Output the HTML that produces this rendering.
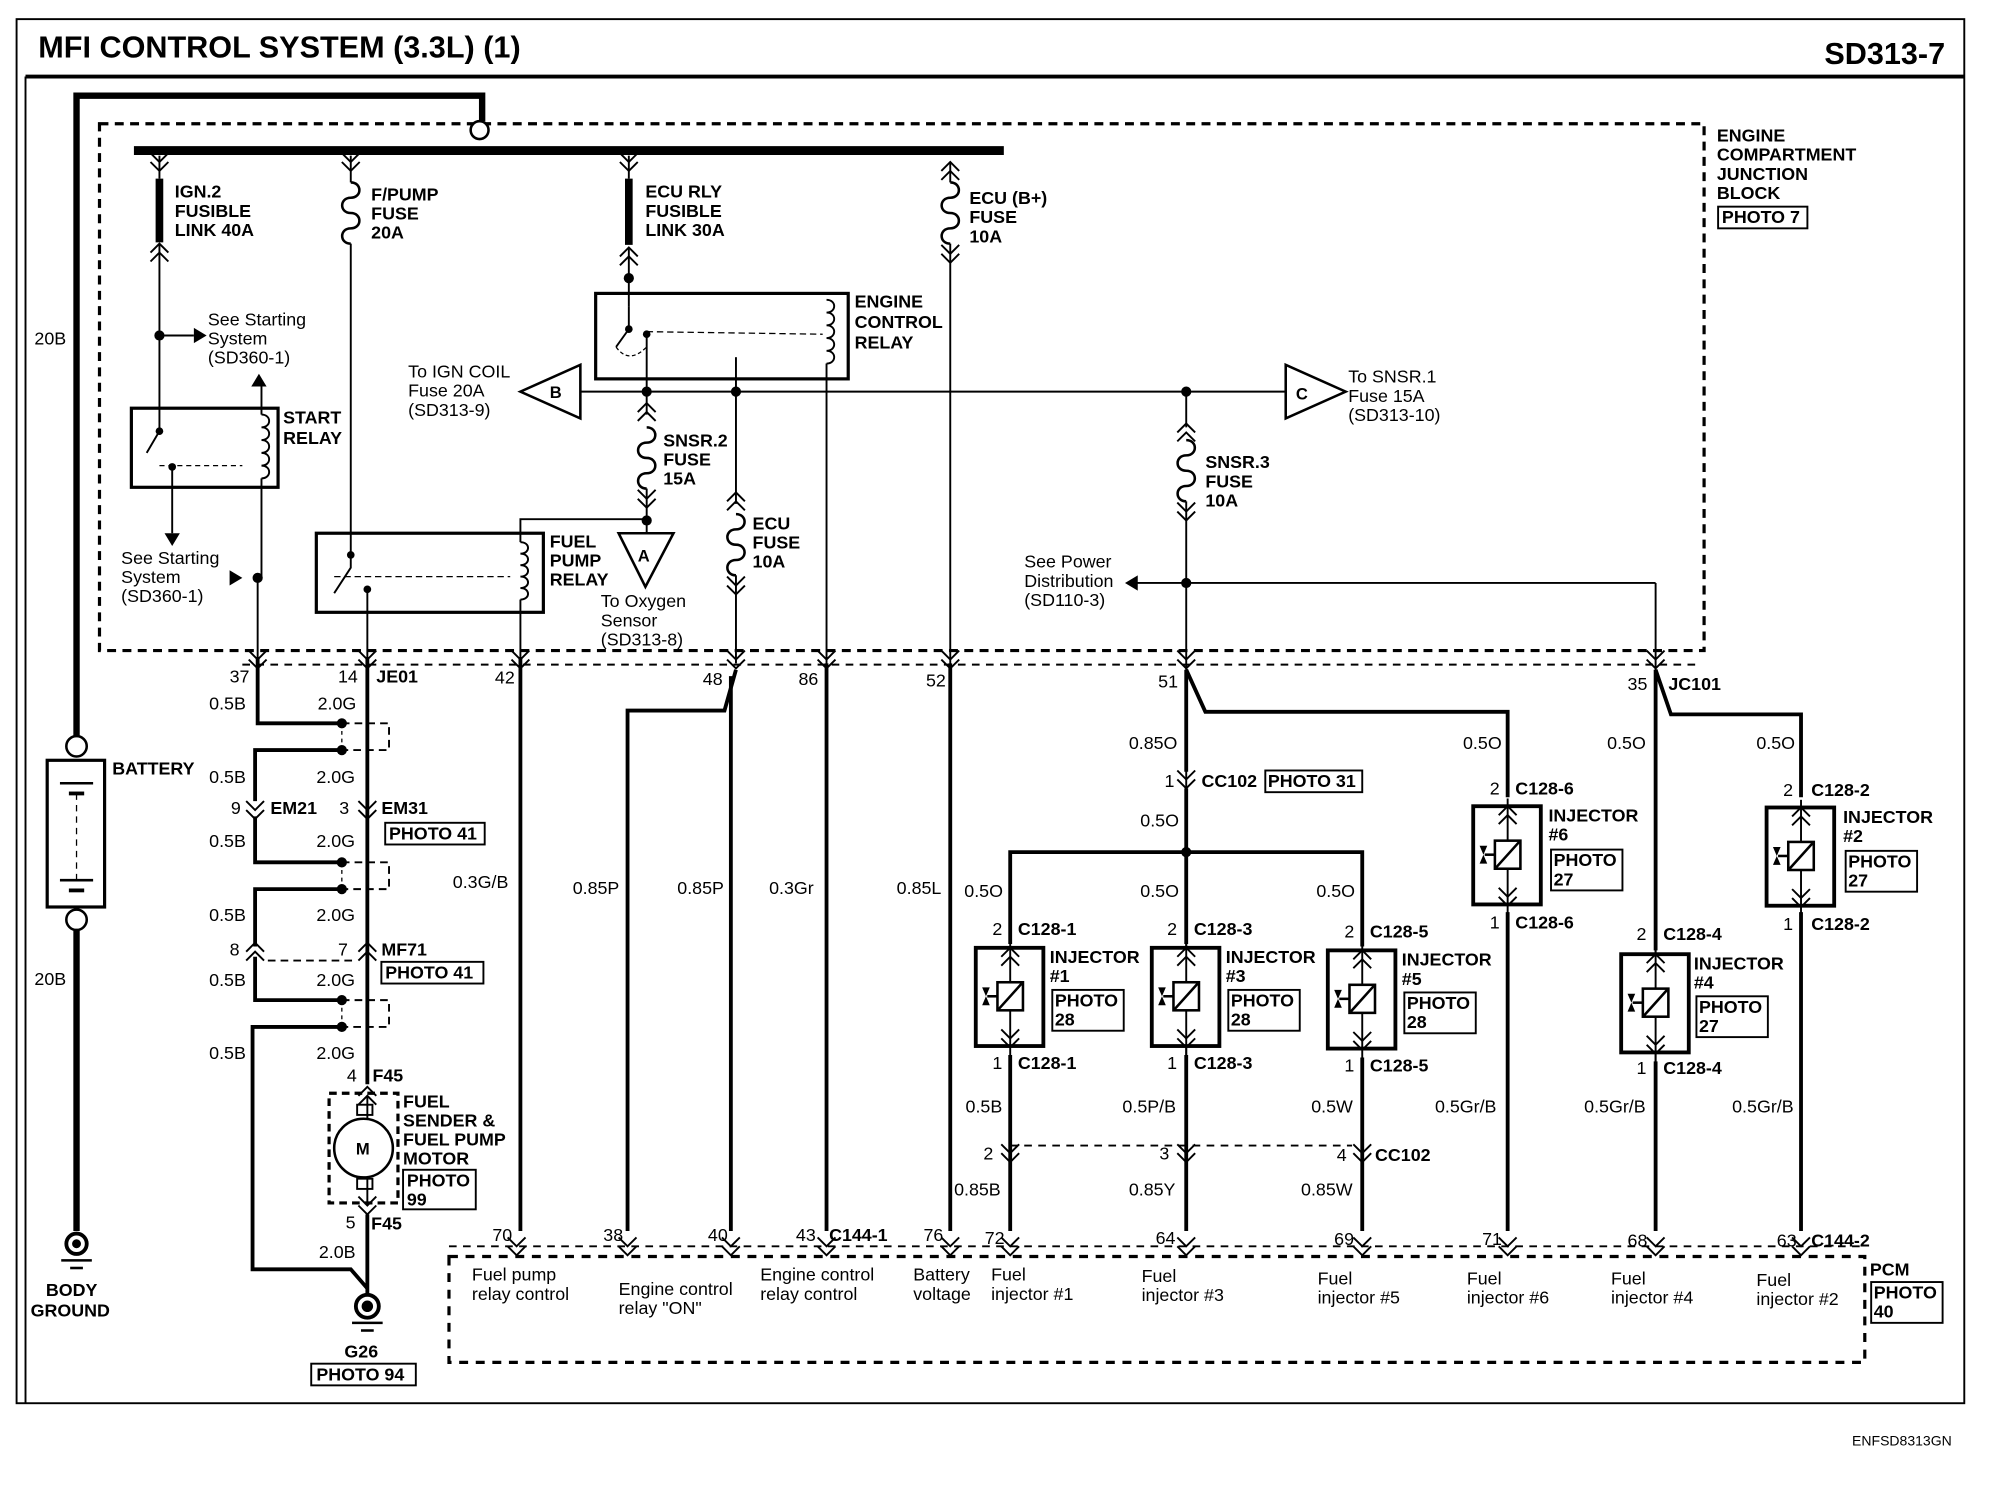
<!DOCTYPE html>
<html><head><meta charset="utf-8"><style>
html,body{margin:0;padding:0;background:#fff}
svg{display:block}
text{font-family:"Liberation Sans",Arial,sans-serif;fill:#000}
.b{font-weight:bold;font-size:14px}
.r{font-size:14px}
.t{font-weight:bold;font-size:24px}
</style></head><body>
<svg width="2000" height="1504" viewBox="0 0 1568 1179" preserveAspectRatio="none" xmlns="http://www.w3.org/2000/svg">
<defs>
<path id="cd" d="M-7,-8 L0,-1 L7,-8 M-7,-1 L0,6 L7,-1" fill="none" stroke="#000" stroke-width="1.5"/>
<path id="cu" d="M-7,8 L0,1 L7,8 M-7,1 L0,-6 L7,1" fill="none" stroke="#000" stroke-width="1.5"/>
<path id="fz" d="M0,0 c9,0 9,12 0,12 c-9,0 -9,12 0,12 c9,0 9,12 0,12 c-9,0 -9,12 0,12" fill="none" stroke="#000" stroke-width="2"/>
<g id="inj">
<rect x="-27" y="0" width="53" height="77" fill="#fff" stroke="#000" stroke-width="3"/>
<line x1="0" y1="-6" x2="0" y2="84" stroke="#000" stroke-width="1.5"/>
<rect x="-10" y="27" width="20" height="22" fill="#fff" stroke="#000" stroke-width="2"/>
<line x1="-9" y1="48" x2="9" y2="28" stroke="#000" stroke-width="2"/>
<line x1="-18" y1="38" x2="-10" y2="38" stroke="#000" stroke-width="2"/>
<path d="M-22,31 L-16,31 L-19,38 L-16,45 L-22,45 L-19,38Z" fill="#000"/>
<use href="#cu" x="0" y="6"/><use href="#cd" x="0" y="72"/>
</g>
</defs>
<g fill="none" stroke="#000">
<rect x="13" y="15" width="1527" height="1085" stroke-width="1.5"/>
<line x1="20" y1="60" x2="1540" y2="60" stroke-width="3"/>
<line x1="20" y1="60" x2="20" y2="1100" stroke-width="1.5"/>
<rect x="78" y="97" width="1258" height="413" stroke-width="2.5" stroke-dasharray="7,5"/>
<polyline points="60,577 60,75 378,75 378,95" stroke-width="5"/>
<circle cx="376" cy="102" r="7" stroke-width="2" fill="#fff"/>
<line x1="105" y1="118" x2="787" y2="118" stroke-width="7"/>
<circle cx="60" cy="585" r="8" stroke-width="2"/>
<rect x="37" y="596" width="45" height="115" stroke-width="2.5"/>
<circle cx="60" cy="721" r="8" stroke-width="2"/>
<line x1="47" y1="614" x2="73" y2="614" stroke-width="2"/><line x1="54" y1="622" x2="66" y2="622" stroke-width="3"/>
<line x1="60" y1="622" x2="60" y2="690" stroke-width="1" stroke-dasharray="5,4"/>
<line x1="47" y1="690" x2="73" y2="690" stroke-width="2"/><line x1="54" y1="698" x2="66" y2="698" stroke-width="3"/>
<line x1="60" y1="729" x2="60" y2="965" stroke-width="5"/>
<use href="#cd" x="125" y="128"/><line x1="125" y1="122" x2="125" y2="140" stroke-width="1.5"/>
<line x1="125" y1="140" x2="125" y2="190" stroke-width="6"/>
<use href="#cu" x="125" y="197"/>
<polyline points="125,192 125,263 125,320" stroke-width="1.5"/>
<line x1="125" y1="263" x2="152" y2="263" stroke-width="1.5"/>
<rect x="103" y="320" width="115" height="62" stroke-width="2.5"/>
<polyline points="125,320 125,338 115,355" stroke-width="1.5"/>
<line x1="125" y1="365" x2="190" y2="365" stroke-width="1" stroke-dasharray="4,3"/>
<line x1="135" y1="365" x2="135" y2="418" stroke-width="1.5"/>
<path d="M205,325 c8,0 8,10 0,10 c8,0 8,10 0,10 c8,0 8,10 0,10 c8,0 8,10 0,10 c8,0 8,10 0,10" stroke-width="1.5"/>
<line x1="205" y1="298" x2="205" y2="325" stroke-width="1.5"/>
<line x1="205" y1="375" x2="205" y2="453" stroke-width="1.5"/>
<line x1="202" y1="453" x2="202" y2="520" stroke-width="1.5"/>
<use href="#cd" x="275" y="128"/><line x1="275" y1="122" x2="275" y2="143" stroke-width="1.5"/>
<use href="#fz" x="275" y="143"/>
<line x1="275" y1="191" x2="275" y2="430" stroke-width="1.5"/>
<rect x="248" y="418" width="178" height="62" stroke-width="2.5"/>
<polyline points="275,430 275,445 262,465" stroke-width="1.5"/>
<line x1="262" y1="452" x2="400" y2="452" stroke-width="1" stroke-dasharray="5,3"/>
<line x1="288" y1="460" x2="288" y2="520" stroke-width="1.5"/>
<path d="M408,425 c8,0 8,9 0,9 c8,0 8,9 0,9 c8,0 8,9 0,9 c8,0 8,9 0,9 c8,0 8,9 0,9" stroke-width="1.5"/>
<polyline points="408,425 408,407 507,407" stroke-width="1.5"/>
<line x1="408" y1="470" x2="408" y2="515" stroke-width="1.5"/>
<use href="#cd" x="493" y="128"/><line x1="493" y1="122" x2="493" y2="140" stroke-width="1.5"/>
<line x1="493" y1="140" x2="493" y2="192" stroke-width="6"/>
<use href="#cu" x="493" y="200"/>
<line x1="493" y1="195" x2="493" y2="240" stroke-width="1.5"/>
<rect x="467" y="230" width="198" height="67" stroke-width="2.5"/>
<polyline points="493,240 493,258 483,272" stroke-width="1.5"/>
<path d="M483,272 q10,14 24,0" stroke-width="1" stroke-dasharray="3,2"/>
<line x1="507" y1="260" x2="645" y2="262" stroke-width="1" stroke-dasharray="5,3"/>
<line x1="507" y1="262" x2="507" y2="307" stroke-width="1.5"/>
<line x1="577" y1="280" x2="577" y2="307" stroke-width="1.5"/>
<path d="M648,235 c8,0 8,10 0,10 c8,0 8,10 0,10 c8,0 8,10 0,10 c8,0 8,10 0,10 c8,0 8,10 0,10" stroke-width="1.5"/>
<line x1="648" y1="285" x2="648" y2="965" stroke-width="1.5"/>
<line x1="455" y1="307" x2="1008" y2="307" stroke-width="1.5"/>
<polygon points="408,307 455,286 455,328" stroke-width="2" fill="#fff"/>
<polygon points="1055,307 1008,286 1008,328" stroke-width="2" fill="#fff"/>
<line x1="507" y1="307" x2="507" y2="325" stroke-width="1.5"/>
<use href="#cu" x="507" y="322"/>
<use href="#fz" x="507" y="335"/>
<use href="#cd" x="507" y="392"/>
<line x1="507" y1="383" x2="507" y2="418" stroke-width="1.5"/>
<polygon points="485,418 528,418 506,460" stroke-width="2" fill="#fff"/>
<line x1="577" y1="307" x2="577" y2="395" stroke-width="1.5"/>
<use href="#cu" x="577" y="392"/>
<use href="#fz" x="577" y="403"/>
<use href="#cd" x="577" y="460"/>
<line x1="577" y1="451" x2="577" y2="520" stroke-width="1.5"/>
<use href="#cu" x="745" y="133"/>
<line x1="745" y1="128" x2="745" y2="143" stroke-width="1.5"/>
<use href="#fz" x="745" y="143"/>
<use href="#cd" x="745" y="200"/>
<line x1="745" y1="191" x2="745" y2="965" stroke-width="1.5"/>
<line x1="930" y1="307" x2="930" y2="335" stroke-width="1.5"/>
<use href="#cu" x="930" y="338"/>
<use href="#fz" x="930" y="345"/>
<use href="#cd" x="930" y="402"/>
<line x1="930" y1="393" x2="930" y2="965" stroke-width="1.5"/>
<line x1="890" y1="457" x2="1298" y2="457" stroke-width="1.5"/>
<line x1="1298" y1="457" x2="1298" y2="965" stroke-width="1.5"/>
<line x1="190" y1="521" x2="1330" y2="521" stroke-width="1.5" stroke-dasharray="6,5"/>
<polyline points="202,515 202,567 268,567" stroke-width="3"/>
<polyline points="268,588 200,588 200,628" stroke-width="3"/>
<polyline points="200,640 200,676 268,676" stroke-width="3"/>
<polyline points="268,697 200,697 200,742" stroke-width="3"/>
<polyline points="200,750 200,784 268,784" stroke-width="3"/>
<polyline points="268,805 198,805 198,995 275,995 288,1010" stroke-width="3"/>
<line x1="268" y1="567" x2="268" y2="588" stroke-width="1" stroke-dasharray="3,3"/>
<line x1="268" y1="676" x2="268" y2="697" stroke-width="1" stroke-dasharray="3,3"/>
<line x1="268" y1="784" x2="268" y2="805" stroke-width="1" stroke-dasharray="3,3"/>
<path d="M268,567 H305 V588 H268 M268,676 H305 V697 H268 M268,784 H305 V805 H268" stroke-width="1.5" stroke-dasharray="6,4"/>
<line x1="210" y1="753" x2="280" y2="753" stroke-width="1.5" stroke-dasharray="6,4"/>
<line x1="288" y1="515" x2="288" y2="850" stroke-width="3"/>
<use href="#cd" x="200" y="636"/><use href="#cd" x="288" y="636"/>
<use href="#cu" x="200" y="745"/><use href="#cu" x="288" y="745"/>
<use href="#cu" x="288" y="858"/>
<rect x="258" y="857" width="54" height="86" stroke-width="2.5" stroke-dasharray="6,4"/>
<rect x="280" y="866" width="12" height="8" stroke-width="1.5"/>
<circle cx="285" cy="900" r="23" stroke-width="2" fill="#fff"/>
<rect x="280" y="924" width="12" height="8" stroke-width="1.5"/>
<line x1="288" y1="860" x2="288" y2="877" stroke-width="1.5"/>
<line x1="288" y1="923" x2="288" y2="945" stroke-width="1.5"/>
<use href="#cd" x="288" y="946"/>
<line x1="288" y1="952" x2="288" y2="1015" stroke-width="3"/>
<circle cx="60" cy="975" r="8" stroke-width="3"/><circle cx="60" cy="975" r="3" fill="#000"/>
<line x1="48" y1="988" x2="72" y2="988" stroke-width="2"/><line x1="55" y1="994" x2="65" y2="994" stroke-width="2"/>
<circle cx="288" cy="1024" r="9" stroke-width="3"/><circle cx="288" cy="1024" r="4" fill="#000"/>
<line x1="276" y1="1037" x2="300" y2="1037" stroke-width="2"/><line x1="283" y1="1043" x2="293" y2="1043" stroke-width="2"/>
<use href="#cd" x="202" y="518"/><use href="#cd" x="288" y="518"/><use href="#cd" x="408" y="518"/>
<use href="#cd" x="577" y="518"/><use href="#cd" x="648" y="518"/><use href="#cd" x="745" y="518"/>
<use href="#cd" x="930" y="518"/><use href="#cd" x="1298" y="518"/>
<line x1="408" y1="515" x2="408" y2="965" stroke-width="3"/>
<polyline points="577,525 568,557 492,557 492,965" stroke-width="3"/>
<line x1="573" y1="530" x2="573" y2="965" stroke-width="3"/>
<line x1="648" y1="520" x2="648" y2="965" stroke-width="3"/>
<line x1="745" y1="520" x2="745" y2="965" stroke-width="3"/>
<polyline points="930,525 945,558 1182,558 1182,625" stroke-width="3"/>
<line x1="930" y1="525" x2="930" y2="605" stroke-width="3"/>
<use href="#cd" x="930" y="612"/>
<line x1="930" y1="618" x2="930" y2="740" stroke-width="3"/>
<polyline points="792,740 792,668 1068,668 1068,742" stroke-width="3"/>
<polyline points="1298,525 1310,560 1412,560 1412,625" stroke-width="3"/>
<line x1="1298" y1="525" x2="1298" y2="745" stroke-width="3"/>
<line x1="792" y1="827" x2="792" y2="965" stroke-width="3"/>
<line x1="930" y1="827" x2="930" y2="965" stroke-width="3"/>
<line x1="1068" y1="829" x2="1068" y2="965" stroke-width="3"/>
<line x1="1182" y1="715" x2="1182" y2="965" stroke-width="3"/>
<line x1="1298" y1="832" x2="1298" y2="965" stroke-width="3"/>
<line x1="1412" y1="715" x2="1412" y2="965" stroke-width="3"/>
<line x1="792" y1="898" x2="1060" y2="898" stroke-width="1.5" stroke-dasharray="6,5"/>
<use href="#cd" x="792" y="905"/><use href="#cd" x="930" y="905"/><use href="#cd" x="1068" y="905"/>
<rect x="352" y="985" width="1110" height="83" stroke-width="2.5" stroke-dasharray="7,6"/>
<line x1="352" y1="977" x2="1462" y2="977" stroke-width="1.5" stroke-dasharray="6,5"/>
</g>
<g fill="#000">
<circle cx="125" cy="263" r="4"/><circle cx="202" cy="453" r="4"/><circle cx="493" cy="218" r="4"/>
<circle cx="507" cy="307" r="4"/><circle cx="577" cy="307" r="4"/><circle cx="930" cy="307" r="4"/>
<circle cx="507" cy="408" r="4"/><circle cx="930" cy="457" r="4"/><circle cx="930" cy="668" r="4"/>
<circle cx="268" cy="567" r="4"/><circle cx="268" cy="588" r="4"/><circle cx="268" cy="676" r="4"/>
<circle cx="268" cy="697" r="4"/><circle cx="268" cy="784" r="4"/><circle cx="268" cy="805" r="4"/>
<circle cx="135" cy="366" r="3"/><circle cx="125" cy="338" r="3"/><circle cx="275" cy="435" r="3"/><circle cx="288" cy="462" r="3"/>
<circle cx="493" cy="258" r="3"/><circle cx="507" cy="262" r="3"/>
<path d="M152,257 L162,263 L152,269Z"/><path d="M135,428 L129,418 L141,418Z"/><path d="M203,293 L197,303 L209,303Z"/>
<path d="M180,447 L190,453 L180,459Z"/><path d="M882,457 L892,451 L892,463Z"/>
</g>
<use href="#inj" x="792" y="743"/><use href="#inj" x="930" y="743"/><use href="#inj" x="1068" y="745"/>
<use href="#inj" x="1182" y="632"/><use href="#inj" x="1298" y="748"/><use href="#inj" x="1412" y="633"/>
<g><use href="#cd" x="405" y="978"/><use href="#cd" x="492" y="978"/><use href="#cd" x="573" y="978"/><use href="#cd" x="648" y="978"/><use href="#cd" x="745" y="978"/><use href="#cd" x="792" y="978"/><use href="#cd" x="930" y="978"/><use href="#cd" x="1068" y="978"/><use href="#cd" x="1182" y="978"/><use href="#cd" x="1298" y="978"/><use href="#cd" x="1412" y="978"/></g>

<text x="30" y="45" class="t">MFI CONTROL SYSTEM (3.3L) (1)</text>
<text x="1525" y="50" class="t" text-anchor="end">SD313-7</text>
<text x="1452" y="1133" class="r" style="font-size:11px">ENFSD8313GN</text>
<g class="b">
<text x="137" y="155">IGN.2</text><text x="137" y="170">FUSIBLE</text><text x="137" y="185">LINK 40A</text>
<text x="291" y="157">F/PUMP</text><text x="291" y="172">FUSE</text><text x="291" y="187">20A</text>
<text x="506" y="155">ECU RLY</text><text x="506" y="170">FUSIBLE</text><text x="506" y="185">LINK 30A</text>
<text x="760" y="160">ECU (B+)</text><text x="760" y="175">FUSE</text><text x="760" y="190">10A</text>
<text x="1346" y="111">ENGINE</text><text x="1346" y="126">COMPARTMENT</text><text x="1346" y="141">JUNCTION</text><text x="1346" y="156">BLOCK</text>
<text x="1350" y="175">PHOTO 7</text>
<text x="670" y="241">ENGINE</text><text x="670" y="257">CONTROL</text><text x="670" y="273">RELAY</text>
<text x="222" y="332">START</text><text x="222" y="348">RELAY</text>
<text x="431" y="429">FUEL</text><text x="431" y="444">PUMP</text><text x="431" y="459">RELAY</text>
<text x="520" y="350">SNSR.2</text><text x="520" y="365">FUSE</text><text x="520" y="380">15A</text>
<text x="590" y="415">ECU</text><text x="590" y="430">FUSE</text><text x="590" y="445">10A</text>
<text x="945" y="367">SNSR.3</text><text x="945" y="382">FUSE</text><text x="945" y="397">10A</text>
<text x="431" y="312" style="font-size:13px">B</text><text x="1016" y="313" style="font-size:13px">C</text><text x="500" y="440" style="font-size:13px">A</text>
<text x="88" y="607">BATTERY</text>
<text x="36" y="1016">BODY</text><text x="24" y="1032">GROUND</text>
<text x="270" y="1064">G26</text><text x="248" y="1082">PHOTO 94</text>
<text x="295" y="535">JE01</text><text x="212" y="638">EM21</text><text x="299" y="638">EM31</text>
<text x="305" y="658">PHOTO 41</text><text x="299" y="749">MF71</text><text x="302" y="767">PHOTO 41</text>
<text x="292" y="848">F45</text><text x="291" y="964">F45</text>
<text x="316" y="868">FUEL</text><text x="316" y="883">SENDER &amp;</text><text x="316" y="898">FUEL PUMP</text><text x="316" y="913">MOTOR</text>
<text x="319" y="930">PHOTO</text><text x="319" y="945">99</text>
<text x="1308" y="541">JC101</text>
<text x="942" y="617">CC102</text><text x="994" y="617">PHOTO 31</text>
<text x="1078" y="910">CC102</text>
<text x="798" y="733">C128-1</text><text x="936" y="733">C128-3</text><text x="1074" y="735">C128-5</text>
<text x="1188" y="623">C128-6</text><text x="1304" y="737">C128-4</text><text x="1420" y="624">C128-2</text>
<text x="798" y="838">C128-1</text><text x="936" y="838">C128-3</text><text x="1074" y="840">C128-5</text>
<text x="1188" y="728">C128-6</text><text x="1304" y="842">C128-4</text><text x="1420" y="729">C128-2</text>
<text x="823" y="755">INJECTOR</text><text x="823" y="770">#1</text><text x="827" y="789">PHOTO</text><text x="827" y="804">28</text>
<text x="961" y="755">INJECTOR</text><text x="961" y="770">#3</text><text x="965" y="789">PHOTO</text><text x="965" y="804">28</text>
<text x="1099" y="757">INJECTOR</text><text x="1099" y="772">#5</text><text x="1103" y="791">PHOTO</text><text x="1103" y="806">28</text>
<text x="1214" y="644">INJECTOR</text><text x="1214" y="659">#6</text><text x="1218" y="679">PHOTO</text><text x="1218" y="694">27</text>
<text x="1328" y="760">INJECTOR</text><text x="1328" y="775">#4</text><text x="1332" y="794">PHOTO</text><text x="1332" y="809">27</text>
<text x="1445" y="645">INJECTOR</text><text x="1445" y="660">#2</text><text x="1449" y="680">PHOTO</text><text x="1449" y="695">27</text>
<text x="650" y="973">C144-1</text><text x="1420" y="977">C144-2</text>
<text x="1466" y="1000">PCM</text><text x="1469" y="1018">PHOTO</text><text x="1469" y="1033">40</text>
</g>
<g fill="none" stroke="#000" stroke-width="1.5">
<rect x="1347" y="162" width="70" height="17"/><rect x="992" y="604" width="76" height="17"/>
<rect x="244" y="1069" width="82" height="17"/><rect x="302" y="645" width="78" height="17"/>
<rect x="299" y="754" width="80" height="17"/><rect x="316" y="917" width="57" height="31"/>
<rect x="825" y="776" width="56" height="32"/><rect x="963" y="776" width="56" height="32"/><rect x="1101" y="778" width="56" height="32"/>
<rect x="1216" y="666" width="56" height="32"/><rect x="1330" y="781" width="56" height="32"/><rect x="1447" y="667" width="56" height="32"/>
<rect x="1467" y="1005" width="56" height="32"/>
</g>
<g class="r">
<text x="163" y="255">See Starting</text><text x="163" y="270">System</text><text x="163" y="285">(SD360-1)</text>
<text x="95" y="442">See Starting</text><text x="95" y="457">System</text><text x="95" y="472">(SD360-1)</text>
<text x="320" y="296">To IGN COIL</text><text x="320" y="311">Fuse 20A</text><text x="320" y="326">(SD313-9)</text>
<text x="1057" y="300">To SNSR.1</text><text x="1057" y="315">Fuse 15A</text><text x="1057" y="330">(SD313-10)</text>
<text x="471" y="476">To Oxygen</text><text x="471" y="491">Sensor</text><text x="471" y="506">(SD313-8)</text>
<text x="803" y="445">See Power</text><text x="803" y="460">Distribution</text><text x="803" y="475">(SD110-3)</text>
<text x="27" y="270">20B</text><text x="27" y="772">20B</text>
<text x="180" y="535">37</text><text x="265" y="535">14</text><text x="388" y="536">42</text><text x="551" y="537">48</text><text x="626" y="537">86</text><text x="726" y="538">52</text><text x="908" y="539">51</text><text x="1276" y="541">35</text>
<text x="164" y="556">0.5B</text><text x="249" y="556">2.0G</text>
<text x="164" y="614">0.5B</text><text x="248" y="614">2.0G</text>
<text x="181" y="638">9</text><text x="266" y="638">3</text>
<text x="164" y="664">0.5B</text><text x="248" y="664">2.0G</text>
<text x="355" y="696">0.3G/B</text>
<text x="164" y="722">0.5B</text><text x="248" y="722">2.0G</text>
<text x="180" y="749">8</text><text x="265" y="749">7</text>
<text x="164" y="773">0.5B</text><text x="248" y="773">2.0G</text>
<text x="164" y="830">0.5B</text><text x="248" y="830">2.0G</text>
<text x="272" y="848">4</text><text x="271" y="963">5</text><text x="250" y="986">2.0B</text>
<text x="449" y="701">0.85P</text><text x="531" y="701">0.85P</text><text x="603" y="701">0.3Gr</text><text x="703" y="701">0.85L</text>
<text x="885" y="587">0.85O</text><text x="913" y="617">1</text><text x="894" y="648">0.5O</text>
<text x="1147" y="587">0.5O</text><text x="1260" y="587">0.5O</text><text x="1377" y="587">0.5O</text>
<text x="1168" y="623">2</text><text x="1398" y="624">2</text><text x="1168" y="728">1</text><text x="1398" y="729">1</text>
<text x="756" y="703">0.5O</text><text x="894" y="703">0.5O</text><text x="1032" y="703">0.5O</text>
<text x="778" y="733">2</text><text x="915" y="733">2</text><text x="1054" y="735">2</text><text x="1283" y="737">2</text>
<text x="778" y="838">1</text><text x="915" y="838">1</text><text x="1054" y="840">1</text><text x="1283" y="842">1</text>
<text x="757" y="872">0.5B</text><text x="880" y="872">0.5P/B</text><text x="1028" y="872">0.5W</text><text x="1125" y="872">0.5Gr/B</text><text x="1242" y="872">0.5Gr/B</text><text x="1358" y="872">0.5Gr/B</text>
<text x="771" y="909">2</text><text x="909" y="909">3</text><text x="1048" y="910">4</text>
<text x="748" y="937">0.85B</text><text x="885" y="937">0.85Y</text><text x="1020" y="937">0.85W</text>
<text x="386" y="973">70</text><text x="473" y="973">38</text><text x="555" y="973">40</text><text x="624" y="973">43</text><text x="724" y="973">76</text><text x="772" y="975">72</text><text x="906" y="975">64</text><text x="1046" y="976">69</text><text x="1162" y="976">71</text><text x="1276" y="977">68</text><text x="1393" y="977">63</text>
<text x="370" y="1004">Fuel pump</text><text x="370" y="1019">relay control</text>
<text x="485" y="1015">Engine control</text><text x="485" y="1030">relay "ON"</text>
<text x="596" y="1004">Engine control</text><text x="596" y="1019">relay control</text>
<text x="716" y="1004">Battery</text><text x="716" y="1019">voltage</text>
<text x="777" y="1004">Fuel</text><text x="777" y="1019">injector #1</text>
<text x="895" y="1005">Fuel</text><text x="895" y="1020">injector #3</text>
<text x="1033" y="1007">Fuel</text><text x="1033" y="1022">injector #5</text>
<text x="1150" y="1007">Fuel</text><text x="1150" y="1022">injector #6</text>
<text x="1263" y="1007">Fuel</text><text x="1263" y="1022">injector #4</text>
<text x="1377" y="1008">Fuel</text><text x="1377" y="1023">injector #2</text>
</g>
<text x="279" y="905" class="b" style="font-size:13px">M</text>
</svg>
</body></html>
